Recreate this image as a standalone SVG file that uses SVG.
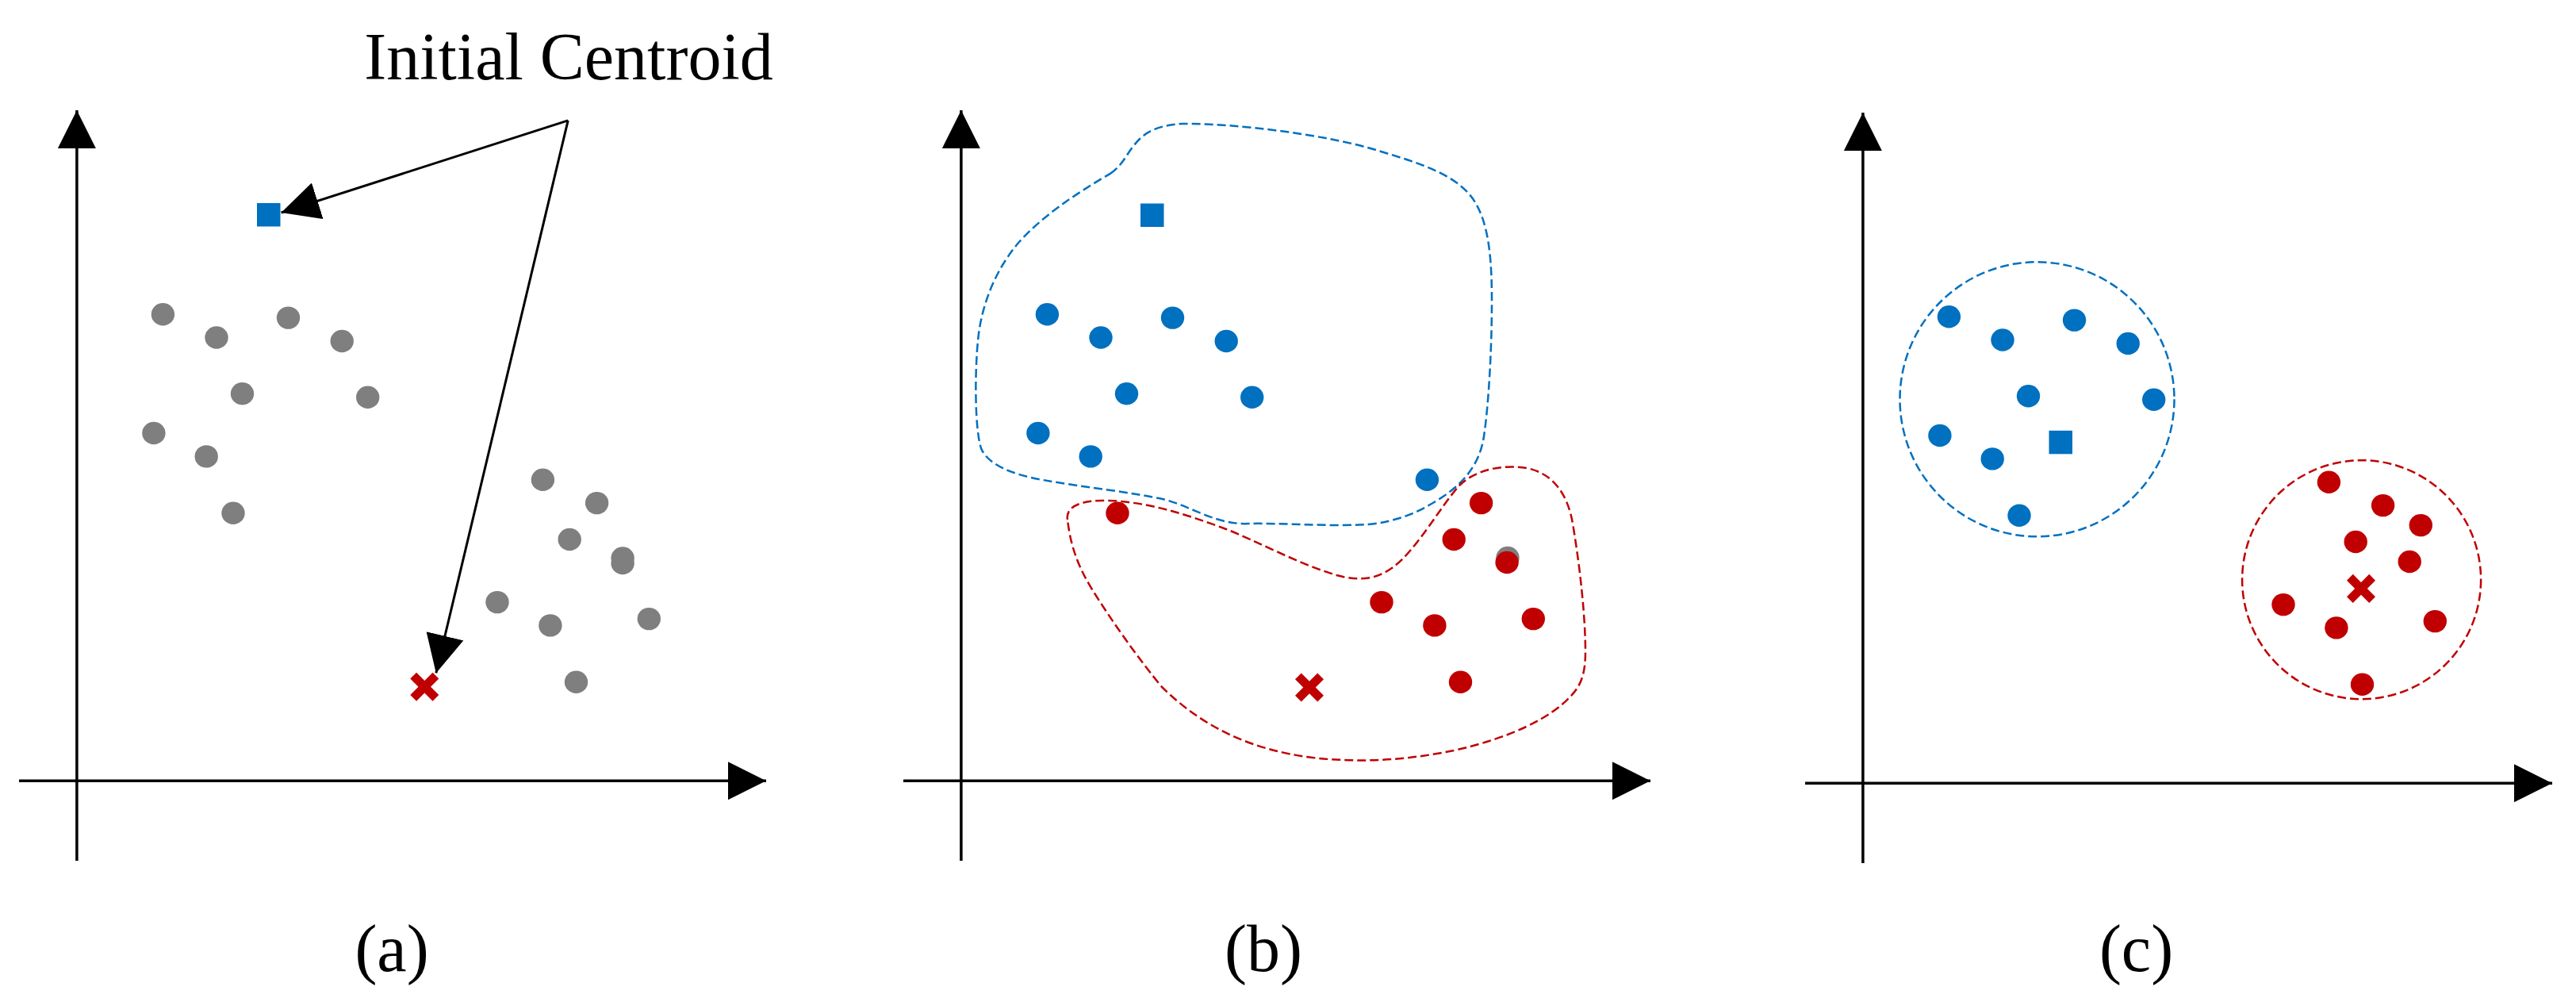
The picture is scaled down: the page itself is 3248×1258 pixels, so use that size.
<svg xmlns="http://www.w3.org/2000/svg" width="3248" height="1258" viewBox="0 0 3248 1258">
<style>
  .ax { stroke: #000; stroke-width: 3.5; fill: none; }
  .con { stroke: #000; stroke-width: 3; fill: none; }
  .g { fill: #7f7f7f; }
  .b { fill: #0070c0; }
  .r { fill: #c00000; }
  .bd { fill: none; stroke: #0070c0; stroke-width: 2.5; stroke-dasharray: 11 5; }
  .rd { fill: none; stroke: #c00000; stroke-width: 2.5; stroke-dasharray: 11 5; }
  .lbl { font-family: "Liberation Serif", "Times New Roman", serif; font-size: 84px; fill: #000; }
</style>
<defs>
  <marker id="ah" markerUnits="userSpaceOnUse" markerWidth="48" markerHeight="48" refX="48" refY="24" orient="auto">
    <path d="M0,0 L48,24 L0,48 Z" fill="#000"/>
  </marker>
  <g id="xmark">
    <rect x="-5.5" y="-20" width="11" height="40" transform="rotate(45)"/>
    <rect x="-5.5" y="-20" width="11" height="40" transform="rotate(-45)"/>
  </g>
</defs>

<rect x="0" y="0" width="3248" height="1258" fill="#fff"/>

<!-- Panel (a) -->
<g id="panel-a">
  <g id="axes-a">
    <line class="ax" x1="96.9" y1="1085" x2="96.9" y2="139" marker-end="url(#ah)"/>
    <line class="ax" x1="24" y1="984.2" x2="966" y2="984.2" marker-end="url(#ah)"/>
  </g>
  <g id="points-a" class="g">
    <ellipse cx="205.4" cy="396.2" rx="14.7" ry="14.2"/>
    <ellipse cx="273" cy="425.5" rx="14.7" ry="14.2"/>
    <ellipse cx="363.5" cy="400.6" rx="14.7" ry="14.2"/>
    <ellipse cx="431.2" cy="430" rx="14.7" ry="14.2"/>
    <ellipse cx="305.5" cy="496.3" rx="14.7" ry="14.2"/>
    <ellipse cx="463.7" cy="500.8" rx="14.7" ry="14.2"/>
    <ellipse cx="193.9" cy="546" rx="14.7" ry="14.2"/>
    <ellipse cx="260.2" cy="575.4" rx="14.7" ry="14.2"/>
    <ellipse cx="294" cy="646.8" rx="14.7" ry="14.2"/>
    <ellipse cx="684.4" cy="604.7" rx="14.7" ry="14.2"/>
    <ellipse cx="752.6" cy="634.1" rx="14.7" ry="14.2"/>
    <ellipse cx="718.2" cy="680" rx="14.7" ry="14.2"/>
    <ellipse cx="785.1" cy="703.5" rx="14.7" ry="14.2"/>
    <ellipse cx="785.1" cy="710" rx="14.7" ry="14.2"/>
    <ellipse cx="627" cy="759.1" rx="14.7" ry="14.2"/>
    <ellipse cx="693.9" cy="788.4" rx="14.7" ry="14.2"/>
    <ellipse cx="818.3" cy="780.1" rx="14.7" ry="14.2"/>
    <ellipse cx="726.5" cy="859.8" rx="14.7" ry="14.2"/>
  </g>
  <rect id="centroid-a-blue" class="b" x="324" y="256" width="29.5" height="29.5"/>
  <use id="centroid-a-red" href="#xmark" class="r" transform="translate(535.3,865.8)"/>
</g>

<g id="connectors">
  <line class="con" x1="716.2" y1="151.9" x2="354.6" y2="268" marker-end="url(#ah)"/>
  <line class="con" x1="716.2" y1="151.9" x2="549.8" y2="848.4" marker-end="url(#ah)"/>
</g>
<text id="label-initial" class="lbl" x="717" y="100" text-anchor="middle">Initial Centroid</text>

<!-- Panel (b) -->
<g id="panel-b" transform="translate(1115,0)">
  <g id="axes-b">
    <line class="ax" x1="96.9" y1="1085" x2="96.9" y2="139" marker-end="url(#ah)"/>
    <line class="ax" x1="24" y1="984.2" x2="966" y2="984.2" marker-end="url(#ah)"/>
  </g>
  <path id="cluster-b-blue" class="bd" d="M284.8,218.9 C300,209 305,195 315,183 C328,166 345,158 375,156 C440,155 560,170 623,190 C680,207 725,222 745,255 C763,285 766,330 766,380 C766,440 762,510 756,550 C750,590 725,615 690,635 C665,650 640,658 610,661 C560,664 500,659 460,660 C420,662 390,640 355,630 C310,620 250,614 200,605 C160,598 130,585 122,565 C114,540 114,470 118,430 C122,385 140,340 170,305 C200,272 240,245 284.8,218.9 Z"/>
  <path id="cluster-b-red" class="rd" d="M231,655 C228,638 250,630 280,631 C330,632 380,648 431,667 C470,682 520,710 570,725 C600,733 620,730 640,716 C670,695 700,640 725,612 C745,592 780,585 810,590 C845,597 862,625 868,660 C878,720 884,780 884,822 C884,850 878,865 865,878 C840,905 790,930 718,946 C660,958 600,962 540,955 C460,945 400,915 350,866 C320,830 285,780 262,743 C245,715 235,690 231,655 Z"/>
  <g id="points-b-blue" class="b">
    <ellipse cx="205.4" cy="396.2" rx="14.7" ry="14.2"/>
    <ellipse cx="273" cy="425.5" rx="14.7" ry="14.2"/>
    <ellipse cx="363.5" cy="400.6" rx="14.7" ry="14.2"/>
    <ellipse cx="431.2" cy="430" rx="14.7" ry="14.2"/>
    <ellipse cx="305.5" cy="496.3" rx="14.7" ry="14.2"/>
    <ellipse cx="463.7" cy="500.8" rx="14.7" ry="14.2"/>
    <ellipse cx="193.9" cy="546" rx="14.7" ry="14.2"/>
    <ellipse cx="260.2" cy="575.4" rx="14.7" ry="14.2"/>
    <ellipse cx="684.4" cy="604.7" rx="14.7" ry="14.2"/>
  </g>
  <ellipse class="g" cx="786" cy="703" rx="14.7" ry="14.2"/>
  <g id="points-b-red" class="r">
    <ellipse cx="294" cy="646.8" rx="14.7" ry="14.2"/>
    <ellipse cx="752.6" cy="634.1" rx="14.7" ry="14.2"/>
    <ellipse cx="718.2" cy="680" rx="14.7" ry="14.2"/>
    <ellipse cx="785.1" cy="709" rx="14.7" ry="14.2"/>
    <ellipse cx="627" cy="759.1" rx="14.7" ry="14.2"/>
    <ellipse cx="693.9" cy="788.4" rx="14.7" ry="14.2"/>
    <ellipse cx="818.3" cy="780.1" rx="14.7" ry="14.2"/>
    <ellipse cx="726.5" cy="859.8" rx="14.7" ry="14.2"/>
  </g>
  <rect id="centroid-b-blue" class="b" x="323" y="256.5" width="29.5" height="29.5"/>
  <use id="centroid-b-red" href="#xmark" class="r" transform="translate(536,866.5)"/>
</g>

<!-- Panel (c) -->
<g id="panel-c" transform="translate(2252,3)">
  <g id="axes-c">
    <line class="ax" x1="96.9" y1="1085" x2="96.9" y2="139" marker-end="url(#ah)"/>
    <line class="ax" x1="24" y1="984.2" x2="966" y2="984.2" marker-end="url(#ah)"/>
  </g>
  <circle id="cluster-c-blue" class="bd" cx="316.5" cy="500.3" r="173"/>
  <circle id="cluster-c-red" class="rd" cx="725.6" cy="727.7" r="150.5"/>
  <g id="points-c-blue" class="b">
    <ellipse cx="205.4" cy="396.2" rx="14.7" ry="14.2"/>
    <ellipse cx="273" cy="425.5" rx="14.7" ry="14.2"/>
    <ellipse cx="363.5" cy="400.6" rx="14.7" ry="14.2"/>
    <ellipse cx="431.2" cy="430" rx="14.7" ry="14.2"/>
    <ellipse cx="305.5" cy="496.3" rx="14.7" ry="14.2"/>
    <ellipse cx="463.7" cy="500.8" rx="14.7" ry="14.2"/>
    <ellipse cx="193.9" cy="546" rx="14.7" ry="14.2"/>
    <ellipse cx="260.2" cy="575.4" rx="14.7" ry="14.2"/>
    <ellipse cx="294" cy="646.8" rx="14.7" ry="14.2"/>
  </g>
  <g id="points-c-red" class="r">
    <ellipse cx="684.4" cy="604.7" rx="14.7" ry="14.2"/>
    <ellipse cx="752.6" cy="634.1" rx="14.7" ry="14.2"/>
    <ellipse cx="718.2" cy="680" rx="14.7" ry="14.2"/>
    <ellipse cx="800.3" cy="659.1" rx="14.7" ry="14.2"/>
    <ellipse cx="786.2" cy="705" rx="14.7" ry="14.2"/>
    <ellipse cx="627" cy="759.1" rx="14.7" ry="14.2"/>
    <ellipse cx="693.9" cy="788.4" rx="14.7" ry="14.2"/>
    <ellipse cx="818.3" cy="780.1" rx="14.7" ry="14.2"/>
    <ellipse cx="726.5" cy="859.8" rx="14.7" ry="14.2"/>
  </g>
  <rect id="centroid-c-blue" class="b" x="331.5" y="539.8" width="29.5" height="29.5"/>
  <use id="centroid-c-red" href="#xmark" class="r" transform="translate(725,738.9)"/>
</g>

<g id="captions">
  <text class="lbl" x="494" y="1224" text-anchor="middle">(a)</text>
  <text class="lbl" x="1593" y="1224" text-anchor="middle">(b)</text>
  <text class="lbl" x="2693.5" y="1224" text-anchor="middle">(c)</text>
</g>
</svg>
